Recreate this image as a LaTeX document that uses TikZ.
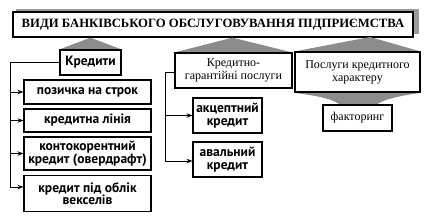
\documentclass[tikz,border=0pt]{standalone}
\usepackage{fontspec}
\setmainfont{Liberation Serif}
\newfontfamily\bsans{PT Sans}
\usetikzlibrary{arrows.meta}
\begin{document}
\begin{tikzpicture}[x=1pt,y=-1pt,
  box/.style={draw,line width=1.1pt,fill=white,inner sep=0pt,align=center},
  sbox/.style={box,font=\bsans\bfseries\fontsize{13.5}{12.5}\selectfont},
  rbox/.style={box,font=\fontsize{12}{13}\selectfont},
  conn/.style={line width=0.9pt},
  arr/.style={conn,-{Stealth[length=6pt,width=4.5pt]}},
  shade/.style={fill=black!45,draw=none}]
\useasboundingbox (0,0) rectangle (433,218);
% title shadow
\fill[black!40] (16,8.5) rectangle (419,34);
\node[box,line width=1.3pt,minimum width=400pt,minimum height=25pt,
  font=\bfseries\fontsize{12.7}{14}\selectfont] (title) at (213,24.5)
  {ВИДИ БАНКІВСЬКОГО ОБСЛУГОВУВАННЯ ПІДПРИЄМСТВА};
% group headers
\node[sbox,minimum width=61pt,minimum height=25pt] (kred) at (90.5,62.5) {Кредити};
\node[rbox,minimum width=117pt,minimum height=35pt] (kgp) at (233.5,70.5) {Кредитно-\\гарантійні послуги};
\node[rbox,minimum width=125pt,minimum height=40pt] (pkh) at (357.5,72) {Послуги кредитного\\характеру};
% shading triangles
\fill[shade] (kred.north west) -- (kred.north |- title.south) -- (kred.north east) -- cycle;
\fill[shade] (kgp.north west) -- ([xshift=-1pt]kgp.north |- title.south) -- (kgp.north east) -- cycle;
\coordinate (pa) at (370,37);
\fill[shade] (pkh.north west) -- (pa) -- (pkh.north east) -- cycle;
% redraw boxes over shading
\node[sbox,minimum width=61pt,minimum height=25pt] at (kred) {Кредити};
\node[rbox,minimum width=117pt,minimum height=35pt] at (kgp) {Кредитно-\\гарантійні послуги};
\node[rbox,minimum width=125pt,minimum height=40pt] at (pkh) {Послуги кредитного\\характеру};
% credit items
\node[sbox,minimum width=127pt,minimum height=24pt] (poz) at (87.5,92) {позичка на строк};
\node[sbox,minimum width=127pt,minimum height=23pt] (lin) at (87.5,120.5) {кредитна лінія};
\node[sbox,minimum width=127pt,minimum height=33pt] (kon) at (87.5,153.5) {контокорентний\\кредит (овердрафт)};
\node[sbox,minimum width=127pt,minimum height=36pt] (veks) at (87.5,193.5) {кредит під облік\\векселів};
% guarantee items
\node[sbox,minimum width=69pt,minimum height=35pt] (akc) at (227.5,115.5) {акцептний\\кредит};
\node[sbox,minimum width=69pt,minimum height=35pt] (aval) at (227.5,159.5) {авальний\\кредит};
% factoring with funnel shading
\node[rbox,minimum width=69pt,minimum height=26pt] (fak) at (357.5,118) {факторинг};
\fill[shade] ([xshift=2pt,yshift=-0.6pt]pkh.south west) .. controls (320,96) and (335,100) .. (340,105)
  -- (376,105) .. controls (382,100) and (398,96) .. ([xshift=-2pt,yshift=-0.6pt]pkh.south east) -- cycle;
\node[rbox,minimum width=69pt,minimum height=26pt] at (fak) {факторинг};
% connectors credits
\coordinate (lt) at (10,62.5);
\coordinate (lb) at (10,187);
\draw[conn] (kred.west) -- (lt) -- (lb);
\draw[arr] (lt) |- (poz.west);
\draw[arr] (lt) |- (lin.west);
\draw[arr] (lt) |- (kon.west);
\draw[arr] (lb) -- (lb -| veks.west);
% connectors guarantees
\coordinate (mt) at (165,72);
\coordinate (mb) at (165,161);
\draw[conn] (kgp.west |- mt) -- (mt) -- (mb);
\draw[arr] (mt) |- (akc.west);
\draw[arr] (mb) -- (mb -| aval.west);
\end{tikzpicture}
\end{document}
